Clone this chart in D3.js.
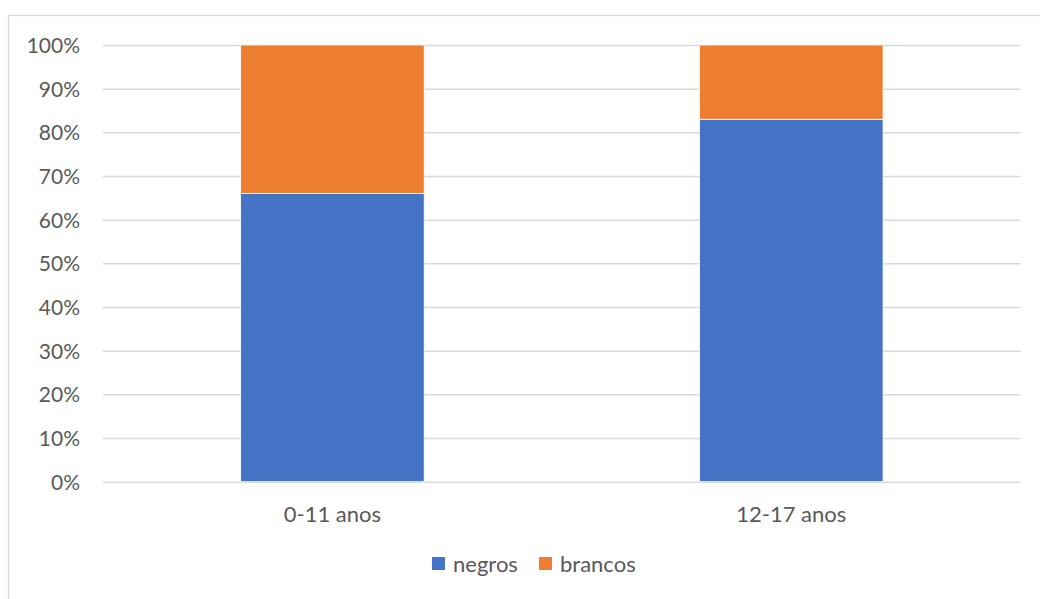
<!DOCTYPE html>
<html>
<head>
<meta charset="utf-8">
<script src="https://cdn.jsdelivr.net/npm/d3@7"></script>
<style>
  html, body { margin: 0; padding: 0; background: #fff; }
  svg { display: block; }
  text { font-family: Lato, "Open Sans", sans-serif; fill: #595959; }
</style>
</head>
<body>
<svg id="chart" width="1040" height="599"></svg>
<script>
// Age groups and the share of each group (stacked to 100%)
const categories = ["0-11 anos", "12-17 anos"];
const negros = [0.66, 0.83];
const brancos = [0.34, 0.17];
const seriesNames = ["negros", "brancos"];
const seriesColors = ["#4472C4", "#ED7D31"];
const yTicks = [0, 0.1, 0.2, 0.3, 0.4, 0.5, 0.6, 0.7, 0.8, 0.9, 1.0];

const svg = d3.select("#chart");
const W = 1040, H = 599;

// chart frame
svg.append("rect")
  .attr("x", 8.5).attr("y", 15.5)
  .attr("width", W + 20).attr("height", H + 20)
  .attr("fill", "#fff").attr("stroke", "#d9d9d9").attr("stroke-width", 1.3);

const plot = { left: 103, right: 1020.7, top: 45, bottom: 481.7 };

const x = d3.scaleBand()
  .domain(categories)
  .range([plot.left, plot.right])
  .paddingInner(0.6)
  .paddingOuter(0.3);

const y = d3.scaleLinear().domain([0, 1]).range([plot.bottom, plot.top]);

// horizontal gridlines + percent labels
const yAxis = d3.axisLeft(y)
  .tickValues(yTicks)
  .tickFormat(d3.format(".0%"))
  .tickSize(-(plot.right - plot.left))
  .tickPadding(23);

const gy = svg.append("g")
  .attr("transform", `translate(${plot.left},0)`)
  .call(yAxis);
gy.select(".domain").remove();
gy.selectAll(".tick line").attr("stroke", "#d9d9d9").attr("stroke-width", 1.5);
gy.selectAll(".tick text")
  .attr("fill", "#595959")
  .attr("dy", "0.36em")
  .style("font-size", "21px")
  .style("font-family", "Lato, 'Open Sans', sans-serif");

// stacked bars
const rows = categories.map((c, i) => ({ cat: c, negros: negros[i], brancos: brancos[i] }));
const stack = d3.stack().keys(seriesNames)(rows);

svg.append("g").selectAll("g")
  .data(stack)
  .join("g")
  .attr("fill", (d, i) => seriesColors[i])
  .selectAll("rect")
  .data(d => d)
  .join("rect")
  .attr("x", d => x(d.data.cat))
  .attr("width", x.bandwidth())
  .attr("y", d => y(d[1]))
  .attr("height", d => y(d[0]) - y(d[1]))
  .attr("stroke", "#fff")
  .attr("stroke-width", 0.8);

// category axis labels
const gx = svg.append("g")
  .attr("transform", `translate(0,${plot.bottom})`)
  .call(d3.axisBottom(x).tickSize(0).tickPadding(25));
gx.select(".domain").remove();
gx.selectAll(".tick text")
  .attr("fill", "#595959")
  .style("font-size", "22px")
  .style("font-family", "Lato, 'Open Sans', sans-serif");

// legend
const legendItems = [
  { name: seriesNames[0], color: seriesColors[0], x: 432 },
  { name: seriesNames[1], color: seriesColors[1], x: 539 }
];
const lg = svg.append("g");
const li = lg.selectAll("g").data(legendItems).join("g")
  .attr("transform", d => `translate(${d.x},557)`);
li.append("rect").attr("width", 13).attr("height", 13).attr("fill", d => d.color);
li.append("text")
  .attr("x", 21).attr("y", 14.5)
  .style("font-size", "22px")
  .text(d => d.name);
</script>
</body>
</html>
